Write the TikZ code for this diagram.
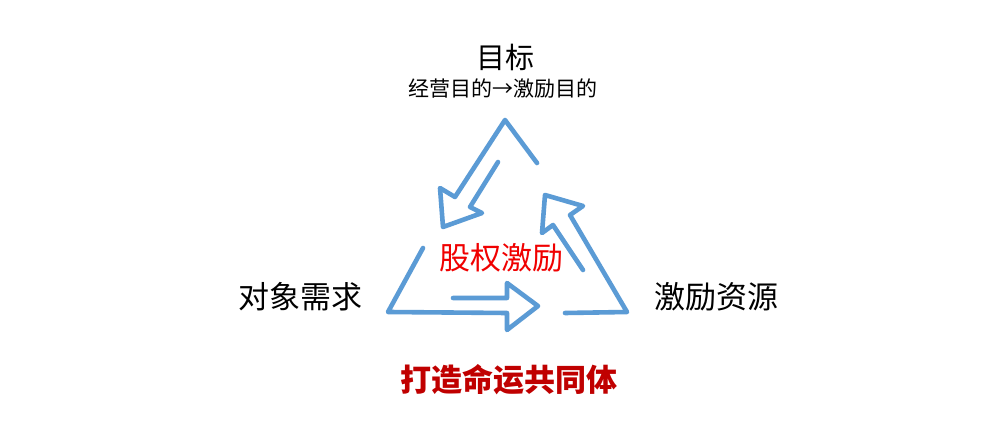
\documentclass[tikz,border=0pt]{standalone}
\usepackage{fontspec}
\newfontfamily\cjk{Noto Sans CJK SC}
\definecolor{cycleblue}{HTML}{5B9BD5}
\definecolor{corered}{HTML}{F00000}
\definecolor{mottored}{HTML}{C00000}
\tikzset{
  cyclearrow/.style={draw=cycleblue, line width=4.6pt, line join=round, line cap=round},
  label/.style={font=\cjk, inner sep=0pt, anchor=center},
}
\begin{document}
\begin{tikzpicture}[x=1pt,y=-1pt]
\useasboundingbox (0,0) rectangle (1006,443);
\fill[white] (0,0) rectangle (1006,443);
% top arrow (pointing down-left)
\draw[cyclearrow] (537,163) -- (505,120) -- (455,197) -- (440,188) -- (443,227) -- (482,213) -- (470,207) -- (498,162);
% bottom arrow (pointing right)
\draw[cyclearrow] (423,248) -- (388,312) -- (507,313) -- (507,330) -- (538,306) -- (507,283) -- (507,298) -- (453,298);
% right arrow (pointing up-left)
\draw[cyclearrow] (565,313) -- (627,312) -- (570,215) -- (583,206) -- (545,195) -- (542,233) -- (553,225) -- (583,270);
% texts
\node[label, font=\cjk\fontsize{29}{29}\selectfont] (goal) at (505,57) {目标};
\node[label, font=\cjk\fontsize{21}{21}\selectfont] (goalsub) at (503,89) {经营目的→激励目的};
\node[label, font=\cjk\fontsize{31}{31}\selectfont] (need) at (300,297) {对象需求};
\node[label, font=\cjk\fontsize{31}{31}\selectfont] (resource) at (716,297) {激励资源};
\node[label, font=\cjk\fontsize{31}{31}\selectfont, text=corered] (core) at (501,258) {股权激励};
\node[label, font=\cjk\bfseries\fontsize{31}{31}\selectfont, text=mottored] (motto) at (509,380) {打造命运共同体};
\end{tikzpicture}
\end{document}
